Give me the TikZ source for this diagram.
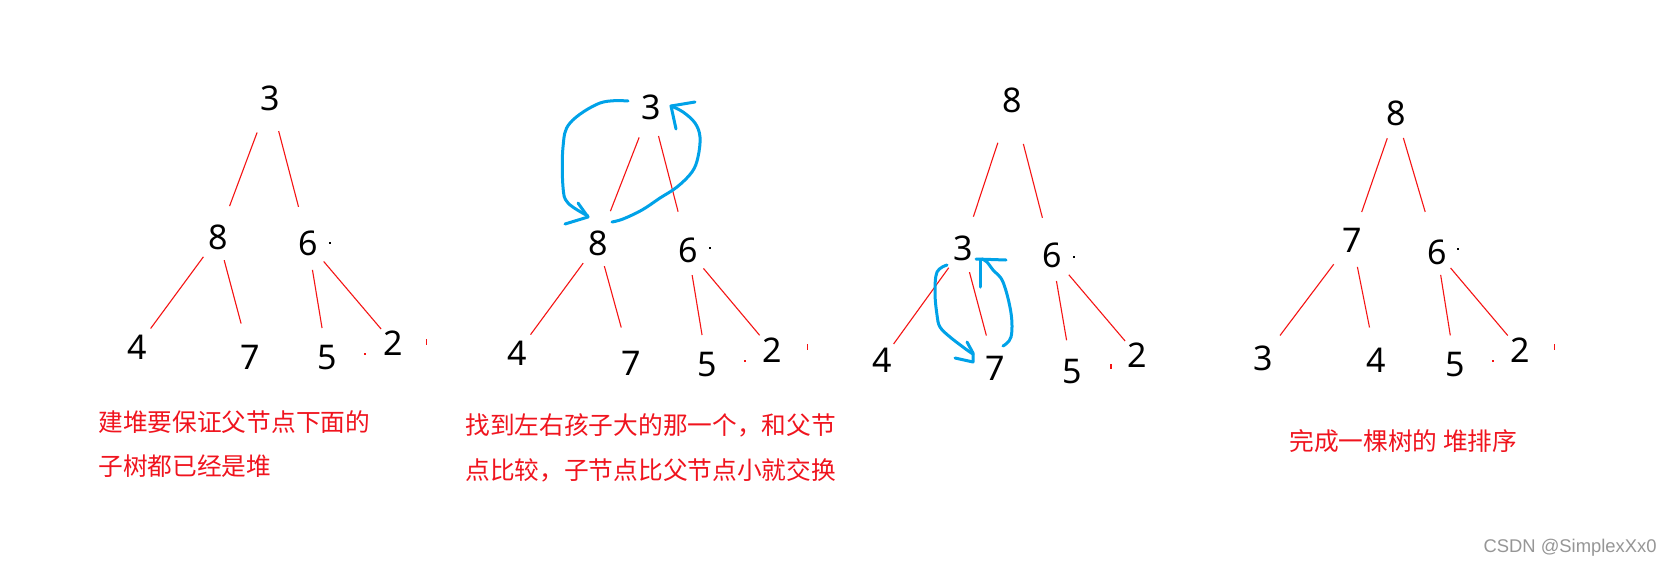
\documentclass[tikz,border=0pt]{standalone}
\usepackage{fontspec}
\setmainfont{Noto Sans}
\newfontfamily\cjkf{Noto Sans CJK SC}
\newfontfamily\wmf{Liberation Sans}
\usetikzlibrary{calc}
\definecolor{edgered}{RGB}{245,20,20}
\definecolor{penblue}{RGB}{0,162,232}
\definecolor{txtred}{RGB}{240,20,30}
\definecolor{wmgray}{RGB}{150,150,150}
\newcommand\treeedge[4]{\draw[edge, shorten <=#3pt, shorten >=#4pt] (#1.center) -- (#2.center);}
\begin{document}
\begin{tikzpicture}[x=0.5pt,y=-0.5pt,
  num/.style={inner sep=0pt, font=\fontsize{17}{20}\selectfont},
  edge/.style={draw=edgered, line width=0.55pt},
  pen/.style={draw=penblue, line width=1.5pt, line cap=round, line join=round},
  note/.style={inner sep=0pt, anchor=west, text=txtred, font=\cjkf\fontsize{12.35}{14}\selectfont},
  wm/.style={inner sep=0pt, anchor=east, text=wmgray, font=\wmf\fontsize{9.2}{11}\selectfont}]
\useasboundingbox (0,0) rectangle (1673,568);
\fill[white] (0,0) rectangle (1673,568);

% ---------- tree 1 ----------
\node[num] (a3) at (270,98) {3};
\node[num] (a8) at (218,237) {8};
\node[num] (a6) at (308,243) {6};
\node[num] (a4) at (137,347) {4};
\node[num] (a7) at (250,357) {7};
\node[num] (a5) at (327,358) {5};
\node[num] (a2) at (393,343) {2};
\treeedge{a3}{a8}{18.4}{16.5}
\treeedge{a3}{a6}{17.1}{18.7}
\treeedge{a8}{a4}{12.3}{11.5}
\treeedge{a8}{a7}{12}{17.3}
\treeedge{a6}{a5}{13.6}{15.2}
\treeedge{a6}{a2}{12.1}{9.2}
\fill[black] (329,242) rectangle (331,244);
\fill[edgered] (425.5,339) rectangle (427,345);
\fill[edgered] (364,353) rectangle (366,355);

% ---------- tree 2 ----------
\node[num] (b3) at (651,107) {3};
\node[num] (b8) at (598,243) {8};
\node[num] (b6) at (688,250) {6};
\node[num] (b4) at (517,353) {4};
\node[num] (b7) at (631,363) {7};
\node[num] (b5) at (707,365) {5};
\node[num] (b2) at (772,350) {2};
\treeedge{b3}{b8}{16.3}{17.1}
\treeedge{b3}{b6}{15}{19.8}
\treeedge{b8}{b4}{12.5}{11.4}
\treeedge{b8}{b7}{12}{18.4}
\treeedge{b6}{b5}{12.7}{15.2}
\treeedge{b6}{b2}{12}{9.6}
\fill[black] (709,247) rectangle (711,249);
\fill[edgered] (806.5,344) rectangle (808,350);
\fill[edgered] (744,360) rectangle (746,362);
% blue arrows
\draw[pen] plot[smooth, tension=0.6] coordinates {($(b3)+(-23,-6)$) ($(b3)+(-51,-4)$) ($(b3)+(-81,16)$) ($(b3)+(-88,40)$) ($(b8)+(-35,-56)$) ($(b8)+(-30,-40)$) ($(b8)+(-10,-27)$)};
\draw[pen] ($(b8)+(-20,-40)$) -- ($(b8)+(-10,-26)$) -- ($(b8)+(-33,-19)$);
\draw[pen] plot[smooth, tension=0.6] coordinates {($(b8)+(14,-21)$) ($(b8)+(25,-24)$) ($(b8)+(44,-33)$) ($(b8)+(62,-45)$) ($(b6)+(-11,-63)$) ($(b6)+(4,-78)$) ($(b3)+(47,50)$) ($(b3)+(49,30)$) ($(b3)+(44,16)$) ($(b3)+(32,5)$) ($(b3)+(20,-1)$)};
\draw[pen] ($(b3)+(44,-5)$) -- ($(b3)+(20,-1)$) -- ($(b3)+(25,22)$);

% ---------- tree 3 ----------
\node[num] (c8) at (1012,100) {8};
\node[num] (c3) at (963,248) {3};
\node[num] (c6) at (1052,255) {6};
\node[num] (c4) at (882,360) {4};
\node[num] (c7) at (995,368) {7};
\node[num] (c5) at (1072,372) {5};
\node[num] (c2) at (1137,355) {2};
\treeedge{c8}{c3}{22.5}{16.5}
\treeedge{c8}{c6}{22.7}{19.2}
\treeedge{c3}{c4}{12.2}{9.9}
\treeedge{c3}{c7}{12.5}{16.8}
\treeedge{c6}{c5}{13.2}{16.1}
\treeedge{c6}{c2}{13}{9.2}
\fill[black] (1073,256) rectangle (1075,258);
\fill[edgered] (1110,364) rectangle (1111.5,369);
% blue arrows
\draw[pen] plot[smooth, tension=0.6] coordinates {($(c3)+(-16,17)$) ($(c3)+(-26,24)$) ($(c3)+(-28,45)$) ($(c3)+(-26,67)$) ($(c7)+(-55,-41)$) ($(c7)+(-45,-31)$) ($(c7)+(-28,-18)$) ($(c7)+(-22,-14)$)};
\draw[pen] ($(c7)+(-28,-26)$) -- ($(c7)+(-22,-15)$) -- ($(c7)+(-22,-6)$) -- ($(c7)+(-40,-10)$);
\draw[pen] plot[smooth, tension=0.6] coordinates {($(c7)+(8,-22)$) ($(c7)+(16,-31)$) ($(c7)+(16,-55)$) ($(c3)+(40,34)$) ($(c3)+(30,22)$) ($(c3)+(24,14)$) ($(c3)+(19,11)$)};
\draw[pen] ($(c3)+(17,39)$) -- ($(c3)+(17,12)$);
\draw[pen] ($(c3)+(13,11)$) -- ($(c3)+(43,12)$);

% ---------- tree 4 ----------
\node[num] (d8) at (1396,113) {8};
\node[num] (d7) at (1352,240) {7};
\node[num] (d6) at (1437,252) {6};
\node[num] (d3) at (1263,358) {3};
\node[num] (d4) at (1376,360) {4};
\node[num] (d5) at (1455,365) {5};
\node[num] (d2) at (1520,350) {2};
\treeedge{d8}{d7}{13.4}{14.8}
\treeedge{d8}{d6}{13}{20.9}
\treeedge{d7}{d3}{15.2}{14.1}
\treeedge{d7}{d4}{13.7}{16.6}
\treeedge{d6}{d5}{11.6}{15}
\treeedge{d6}{d2}{10.5}{9.5}
\fill[black] (1457,248) rectangle (1459,250);
\fill[edgered] (1553.5,344) rectangle (1555,350);
\fill[edgered] (1492,360) rectangle (1494,362);

% ---------- notes ----------
\node[note] (t1a) at (98,422) {建堆要保证父节点下面的};
\node[note] (t1b) at (98,466) {子树都已经是堆};
\node[note] (t2a) at (465,425) {找到左右孩子大的那一个，和父节};
\node[note] (t2b) at (465,470) {点比较，子节点比父节点小就交换};
\node[note] (t3) at (1289,441) {完成一棵树的 堆排序};
\node[wm] (wmark) at (1657,548) {CSDN @SimplexXx0};
\end{tikzpicture}
\end{document}
